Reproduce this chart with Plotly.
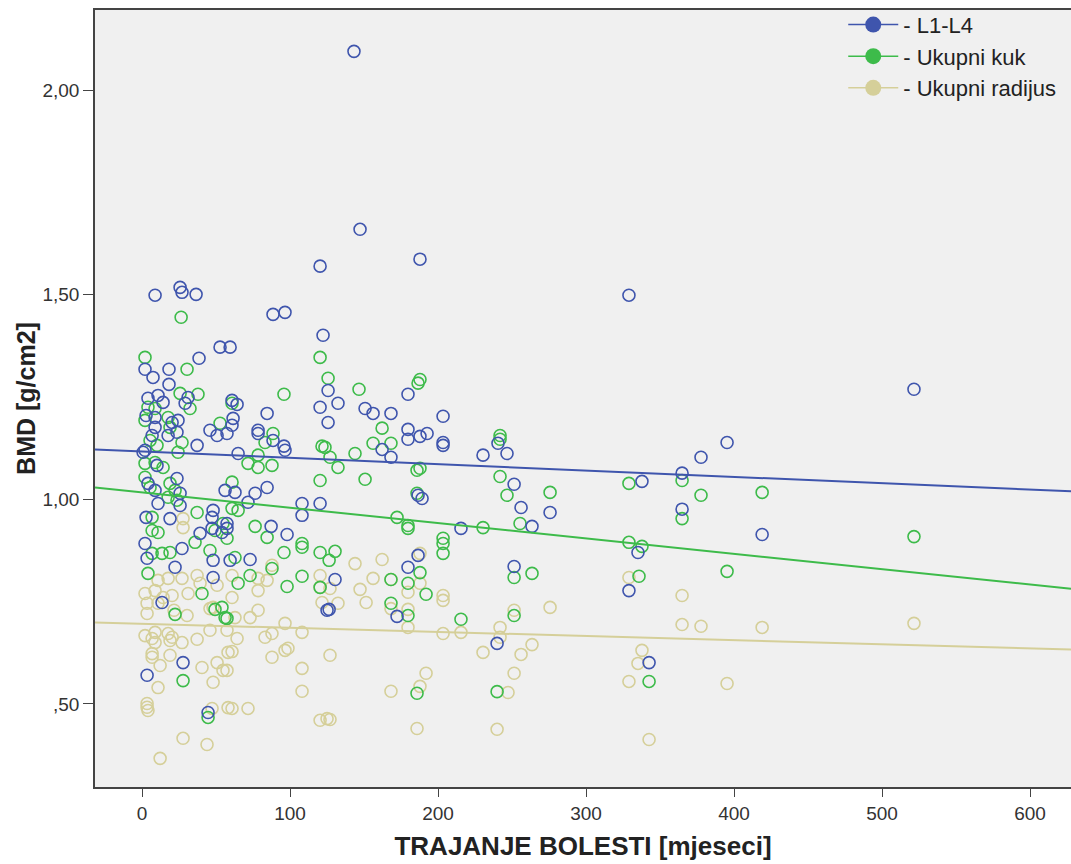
import numpy as np
import plotly.graph_objects as go

# ---- data (months, g/cm2) ----
l14_x = [143.2,147.3,187.8,120.3,329,521.6,8.8,25.7,27,36.5,88.5,96.6,122.3,52.7,59.5,38.5,2,18.2,7.4,18.2,
         4,10.8,31.1,29.1,14.2,2.7,8.8,20.3,24.3,8.8,6.8,23.6,17.6,45.9,50.7,57.4,37.2,2,60.8,64.2,
         61.5,60.8,84.5,120.3,125.7,125.7,78.4,78.4,88.5,95.9,64.9,132.4,150.7,156.1,168.2,179.7,203.4,162.2,168.2,179.7,
         179.7,187.8,192.6,203.4,203.4,186.5,189.2,230.4,240.5,246.6,251.4,256.1,275.7,215.5,263.5,395.3,377.7,364.9,337.8,364.9,
         419,335.1,329,342.6,186.5,179.7,251.4,130.4,126.4,239.9,172.3,96.6,56.1,62.8,76.4,84.5,71.6,108.1,108.1,120.3,
         57.4,57.4,87.2,98,59.5,73,125,0.7,10.1,4,8.8,23.6,25.7,10.8,25.7,18.9,48,47.3,39.2,47.3,
         54,2,27,3.4,22.3,48,48,13.5,27.7,3.4,44.6,2.7]
l14_y = [2.095,1.660,1.587,1.570,1.499,1.269,1.499,1.518,1.506,1.501,1.452,1.457,1.401,1.372,1.372,1.345,1.318,1.318,1.298,1.281,
         1.247,1.254,1.249,1.235,1.237,1.205,1.200,1.188,1.193,1.176,1.156,1.164,1.156,1.169,1.156,1.161,1.132,1.120,1.242,1.232,
         1.198,1.181,1.210,1.225,1.266,1.188,1.169,1.161,1.144,1.130,1.112,1.235,1.222,1.210,1.210,1.257,1.203,1.122,1.103,1.171,
         1.147,1.154,1.161,1.139,1.132,1.010,1.002,1.108,1.137,1.112,1.037,0.980,0.968,0.929,0.934,1.139,1.103,1.064,1.044,0.976,
         0.914,0.870,0.777,0.601,0.863,0.834,0.836,0.804,0.731,0.648,0.714,1.120,1.022,1.017,1.015,1.029,0.993,0.990,0.961,0.990,
         0.941,0.929,0.934,0.914,0.851,0.853,0.729,1.115,1.083,1.039,1.022,1.051,1.015,0.990,0.985,0.953,0.973,0.956,0.917,0.929,
         0.919,0.892,0.880,0.856,0.834,0.851,0.809,0.748,0.601,0.570,0.479,0.956]

kuk_x = [26.4,2,30.4,37.8,25.7,32.4,4,8.8,2,17.6,18.9,52.7,5.4,10.1,27,24.3,120.3,95.9,60.8,125.7,
         88.5,83.1,121.6,78.4,146.6,187.8,186.5,162.2,156.1,168.2,143.9,132.4,123.6,127,150.7,185.8,187.8,185.8,241.9,241.9,
         241.9,246.6,275.7,172.3,179.7,179.7,230.4,255.4,364.9,329,377.7,419,364.9,521.6,329,337.8,395.3,335.8,342.6,130.4,
         126.4,203.4,203.4,203.4,251.4,263.5,168.2,187.8,179.7,191.9,168.2,179.7,215.5,251.4,185.8,239.9,71.6,78.4,87.8,120.3,
         60.8,60.8,64.9,57.4,76.4,84.5,108.1,108.1,95.9,120.3,62.8,87.8,73,108.1,64.9,98,120.3,57.4,22.3,49.3,
         56.1,27.7,44.6,2,8.8,14.2,2,5.4,18.9,22.3,17.6,23.6,37.2,6.8,6.8,10.8,49.3,54.7,35.8,6.8,
         13.5,18.9,45.9,4,40.5,54]
kuk_y = [1.445,1.347,1.318,1.257,1.259,1.222,1.225,1.222,1.193,1.200,1.176,1.186,1.144,1.132,1.139,1.115,1.347,1.257,1.235,1.296,
         1.161,1.139,1.130,1.108,1.269,1.293,1.284,1.174,1.137,1.137,1.112,1.078,1.127,1.103,1.049,1.071,1.076,1.015,1.156,1.147,
         1.056,1.010,1.017,0.956,0.936,0.929,0.931,0.941,1.046,1.039,1.010,1.017,0.953,0.909,0.895,0.885,0.824,0.812,0.555,0.873,
         0.851,0.905,0.892,0.868,0.809,0.819,0.804,0.821,0.795,0.768,0.746,0.716,0.707,0.716,0.526,0.530,1.088,1.078,1.083,1.046,
         1.042,0.978,0.973,0.905,0.934,0.907,0.892,0.883,0.870,0.870,0.858,0.831,0.814,0.812,0.795,0.787,0.785,0.709,0.719,0.731,
         0.711,0.557,0.467,1.088,1.090,1.078,1.054,1.029,1.039,1.022,1.005,0.998,0.968,0.956,0.924,0.919,0.924,0.941,0.895,0.868,
         0.868,0.870,0.875,0.819,0.770,0.736]

rad_x = [27.7,27.7,10.8,17.6,27,37.2,39.2,50.7,2,8.8,14.2,20.3,31.1,3.4,10.8,48,3.4,30.4,21.6,45.9,
         2,8.8,6.8,8.8,17.6,20.3,18.9,27,37.2,45.9,6.8,6.8,12.2,18.9,40.5,50.7,54.7,58.1,48,10.8,
         3.4,3.4,4,47.3,58.1,27.7,43.9,12.2,87.8,60.8,78.4,84.5,78.4,60.8,120.3,120.3,121.6,78.4,62.8,73,
         96.6,108.1,83.1,87.8,64.2,57.4,60.8,87.8,96.6,98.6,57.4,108.1,108.1,60.8,71.6,120.3,125,143.9,162.2,187.8,
         156.1,168.2,187.8,179.7,127,147.3,151.4,132.4,203.4,203.4,168.2,179.7,179.7,203.4,215.5,251.4,275.7,241.9,241.9,127,
         230.4,256.1,263.5,191.9,251.4,187.8,168.2,247.3,127,185.8,239.9,329,364.9,364.9,377.7,419,521.6,337.8,335.1,329,
         395.3,342.6]
rad_y = [0.953,0.931,0.802,0.807,0.807,0.814,0.795,0.790,0.770,0.777,0.760,0.765,0.770,0.746,0.746,0.736,0.721,0.716,0.729,0.733,
         0.667,0.675,0.660,0.650,0.672,0.663,0.655,0.650,0.658,0.680,0.623,0.614,0.594,0.619,0.589,0.601,0.582,0.626,0.553,0.540,
         0.501,0.492,0.484,0.489,0.491,0.416,0.401,0.367,0.839,0.814,0.807,0.802,0.777,0.760,0.814,0.785,0.748,0.729,0.711,0.711,
         0.697,0.675,0.663,0.672,0.660,0.680,0.628,0.614,0.631,0.636,0.582,0.587,0.531,0.489,0.489,0.460,0.464,0.843,0.853,0.868,
         0.807,0.804,0.795,0.773,0.782,0.780,0.748,0.746,0.765,0.753,0.733,0.731,0.687,0.672,0.675,0.729,0.736,0.687,0.663,0.619,
         0.626,0.621,0.645,0.575,0.575,0.543,0.531,0.528,0.462,0.440,0.438,0.809,0.765,0.694,0.690,0.687,0.697,0.631,0.599,0.555,
         0.550,0.413]

# fit lines (intercept at 0 months, slope per month)
series_names = ["L1-L4", "Ukupni kuk", "Ukupni radijus"]
fit_intercept = [1.117, 1.017, 0.696]
fit_slope = [-0.000155, -0.000375, -0.000100]

x_ticks = [0, 100, 200, 300, 400, 500, 600]
y_ticks = [0.5, 1.0, 1.5, 2.0]
y_ticklabels = [",50", "1,00", "1,50", "2,00"]

colors = ["#3f55ad", "#3dbb4a", "#d5cf99"]
x_range = [-31.8, 627.7]
y_range = [0.297, 2.196]

fig = go.Figure()
all_x = [l14_x, kuk_x, rad_x]
all_y = [l14_y, kuk_y, rad_y]

# draw radius first, then hip, then L1-L4 on top
for i in [2, 1, 0]:
    fig.add_trace(go.Scatter(
        x=all_x[i], y=all_y[i], mode="markers", showlegend=False,
        marker=dict(symbol="circle-open", size=12, color=colors[i],
                    line=dict(width=1.6, color=colors[i])),
        hoverinfo="x+y"))

for i in [2, 1, 0]:
    xs = np.array(x_range)
    ys = fit_intercept[i] + fit_slope[i] * xs
    fig.add_trace(go.Scatter(x=xs, y=ys, mode="lines", showlegend=False,
                             line=dict(color=colors[i], width=2)))

for i in range(3):
    fig.add_trace(go.Scatter(
        x=[None], y=[None], mode="lines+markers", name="- " + series_names[i],
        marker=dict(symbol="circle", size=18, color=colors[i]),
        line=dict(color=colors[i], width=1.5)))

fig.update_layout(
    width=1071, height=864,
    margin=dict(l=95, r=0, t=10, b=77),
    paper_bgcolor="white", plot_bgcolor="#f0f0f0",
    font=dict(family="Arial, Liberation Sans, sans-serif", color="#222"),
    legend=dict(x=0.99, xanchor="right", y=1.008, yanchor="top",
                bgcolor="rgba(0,0,0,0)", font=dict(size=22, color="#222"),
                tracegroupgap=0, itemwidth=50),
    xaxis=dict(range=x_range, tickvals=x_ticks, showgrid=False, zeroline=False,
               showline=True, linecolor="#444", linewidth=1.5, mirror=True,
               ticks="outside", ticklen=8, tickcolor="#444",
               tickfont=dict(size=19, color="#333"),
               title=dict(text="<b>TRAJANJE BOLESTI [mjeseci]</b>",
                          font=dict(size=26, color="#222"), standoff=14)),
    yaxis=dict(range=y_range, tickvals=y_ticks, ticktext=y_ticklabels,
               showgrid=False, zeroline=False,
               showline=True, linecolor="#444", linewidth=1.5,
               ticks="outside", ticklen=10, tickcolor="#444",
               tickfont=dict(size=19, color="#333"),
               title=dict(text="<b>BMD [g/cm2]</b>",
                          font=dict(size=25, color="#222"), standoff=0)),
)

fig.write_html("out.html", config={"displayModeBar": False},
               post_script="document.body.style.margin='0';document.body.style.overflow='hidden';")
